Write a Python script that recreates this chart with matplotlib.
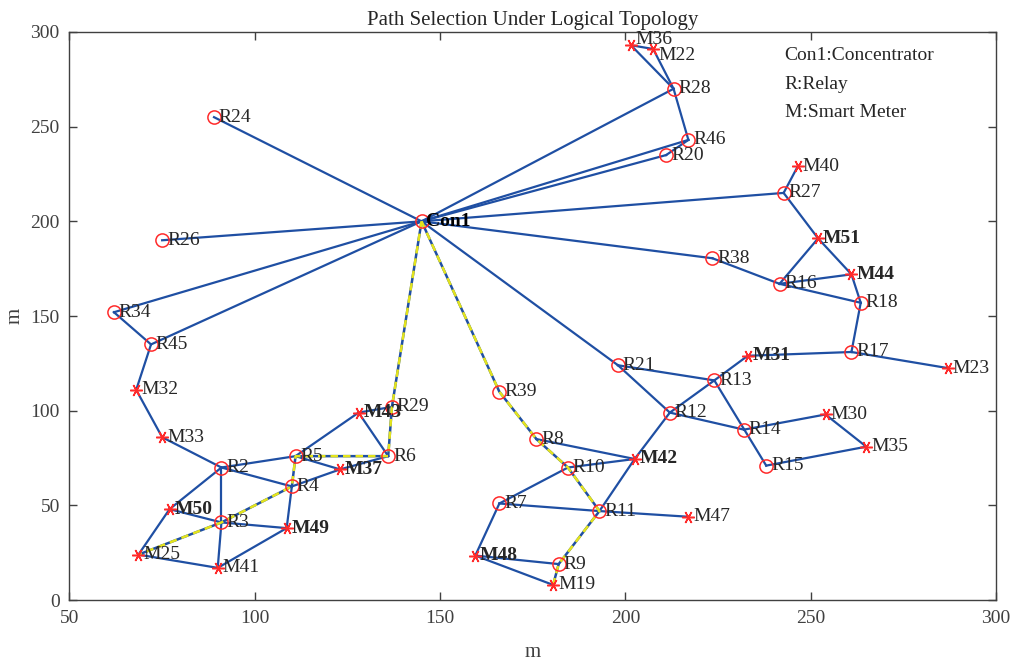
import matplotlib
matplotlib.use("Agg")
import matplotlib.pyplot as plt

plt.rcParams['font.family'] = ['Liberation Serif', 'DejaVu Serif']

# Knoten (Name, x, y) in Metern
relay_names = ['Con1', 'R28', 'R46', 'R20', 'R24', 'R26', 'R34', 'R45', 'R2', 'R5', 'R4', 'R6',
               'R29', 'R3', 'R39', 'R8', 'R10', 'R7', 'R11', 'R9', 'R21', 'R12', 'R13', 'R14',
               'R15', 'R17', 'R18', 'R16', 'R38', 'R27']
relay_x = [145, 213, 217, 211, 89, 75, 62, 72, 91, 111, 110, 136,
           137, 91, 166, 176, 184.5, 166, 193, 182, 198, 212, 224, 232,
           238, 261, 263.5, 241.6, 223.5, 242.7]
relay_y = [200, 270, 243, 235, 255, 190, 152, 135, 70, 76, 60, 76,
           102, 41, 110, 85, 70, 51, 47, 19, 124, 99, 116, 90,
           71, 131, 157, 167, 180.5, 215]

meter_names = ['M36', 'M22', 'M32', 'M33', 'M37', 'M43', 'M50', 'M49', 'M25', 'M41', 'M42',
               'M47', 'M48', 'M19', 'M31', 'M30', 'M35', 'M23', 'M44', 'M51', 'M40']
meter_x = [201.5, 207.5, 68, 75, 123, 128, 77, 108.6, 68.6, 90, 202.5,
           217, 159.5, 180.5, 233, 254, 265, 287, 261, 252, 246.5]
meter_y = [293, 291, 111, 86, 69, 99, 48, 38, 24, 17, 74.5,
           44, 23.5, 8, 129, 98, 81, 122.5, 172, 191, 229]

bold_names = ['Con1', 'M37', 'M43', 'M50', 'M49', 'M42', 'M48', 'M31', 'M44', 'M51']

edges = [
    ('Con1', 'R28'), ('Con1', 'R46'), ('Con1', 'R20'), ('Con1', 'R27'), ('Con1', 'R38'),
    ('Con1', 'R21'), ('Con1', 'R24'), ('Con1', 'R26'), ('Con1', 'R34'), ('Con1', 'R45'),
    ('M36', 'M22'), ('M36', 'R28'), ('M22', 'R28'), ('R28', 'R46'), ('R46', 'R20'),
    ('R27', 'M40'), ('R27', 'M51'), ('M51', 'R16'), ('M51', 'M44'), ('R16', 'M44'),
    ('R38', 'R16'), ('R16', 'R18'), ('M44', 'R18'), ('R18', 'R17'), ('R17', 'M31'),
    ('R17', 'M23'), ('M31', 'R13'), ('R21', 'R13'), ('R21', 'R12'), ('R13', 'R12'),
    ('R12', 'R14'), ('R13', 'R15'), ('R14', 'M30'), ('M30', 'M35'), ('M35', 'R15'),
    ('R12', 'M42'), ('M42', 'R11'), ('M42', 'R8'), ('M42', 'R10'),
    ('R10', 'R7'), ('R7', 'R11'), ('R11', 'M47'), ('R7', 'M48'), ('M48', 'R9'), ('M48', 'M19'),
    ('R34', 'R45'), ('R45', 'M32'), ('M32', 'M33'), ('M33', 'R2'), ('R2', 'R5'), ('R2', 'R4'),
    ('R2', 'R3'), ('R2', 'M50'), ('M50', 'R3'), ('M50', 'M25'), ('M25', 'M41'), ('R3', 'M41'),
    ('R3', 'M49'), ('M49', 'R4'), ('M41', 'M49'), ('R5', 'M43'), ('R5', 'M37'), ('R4', 'M37'),
    ('M37', 'R6'), ('M43', 'R29'), ('M43', 'R6'),
]

# ausgewaehlte Pfade
path1 = ['Con1', 'R29', 'R6', 'R5', 'R4', 'R3', 'M25']
path2 = ['Con1', 'R39', 'R8', 'R10', 'R11', 'R9', 'M19']

legend_lines = ['Con1:Concentrator', 'R:Relay', 'M:Smart Meter']

pos = {}
for n, x, y in zip(relay_names, relay_x, relay_y):
    pos[n] = (x, y)
for n, x, y in zip(meter_names, meter_x, meter_y):
    pos[n] = (x, y)

# kleine Verschiebung fuer ueberlappende Beschriftungen
label_dy = {'M36': 3, 'M22': -3.5}

blue = '#1f4fa3'
red = '#ff2a2a'
txt = '#262626'

fig = plt.figure(figsize=(10.13, 6.66), dpi=100)
ax = fig.add_axes([0.0686, 0.099, 0.9146, 0.853])

for a, b in edges:
    ax.plot([pos[a][0], pos[b][0]], [pos[a][1], pos[b][1]], color=blue, lw=1.6, zorder=2)

for p in [path1, path2]:
    px = [pos[n][0] for n in p]
    py = [pos[n][1] for n in p]
    ax.plot(px, py, color=blue, lw=1.8, zorder=3)
    ax.plot(px, py, color='#e4e41c', lw=1.8, ls=(0, (3, 2)), zorder=4)

ax.plot(relay_x, relay_y, 'o', mfc='none', mec=red, ms=9.5, mew=1.1, zorder=5)
ax.plot(meter_x, meter_y, ls='none', marker=(6, 2, 90), color=red, ms=9, mew=1.1, zorder=5)

for n, (x, y) in pos.items():
    w = 'bold' if n in bold_names else 'normal'
    c = 'black' if n == 'Con1' else txt
    ax.text(x + 1.3, y + label_dy.get(n, 0), n, fontsize=14, va='center', ha='left',
            color=c, fontweight=w, zorder=6, clip_on=False)

for i, s in enumerate(legend_lines):
    ax.text(243, 287.5 - i * 15, s, fontsize=14, va='center', ha='left', color=txt)

ax.set_xlim(50, 300)
ax.set_ylim(0, 300)
ax.set_xticks(range(50, 301, 50))
ax.set_yticks(range(0, 301, 50))
ax.tick_params(direction='in', length=6, width=1, colors='#404040', labelsize=14,
               top=True, right=True, labelcolor='#404040', pad=7)
for sp in ax.spines.values():
    sp.set_color('#404040')
    sp.set_linewidth(1)
ax.set_title('Path Selection Under Logical Topology', fontsize=15, color=txt, pad=5)
ax.set_xlabel('m', fontsize=15, color='#404040', labelpad=12)
ax.set_ylabel('m', fontsize=15, color='#404040', labelpad=4)

fig.savefig('out.png', dpi=100)
